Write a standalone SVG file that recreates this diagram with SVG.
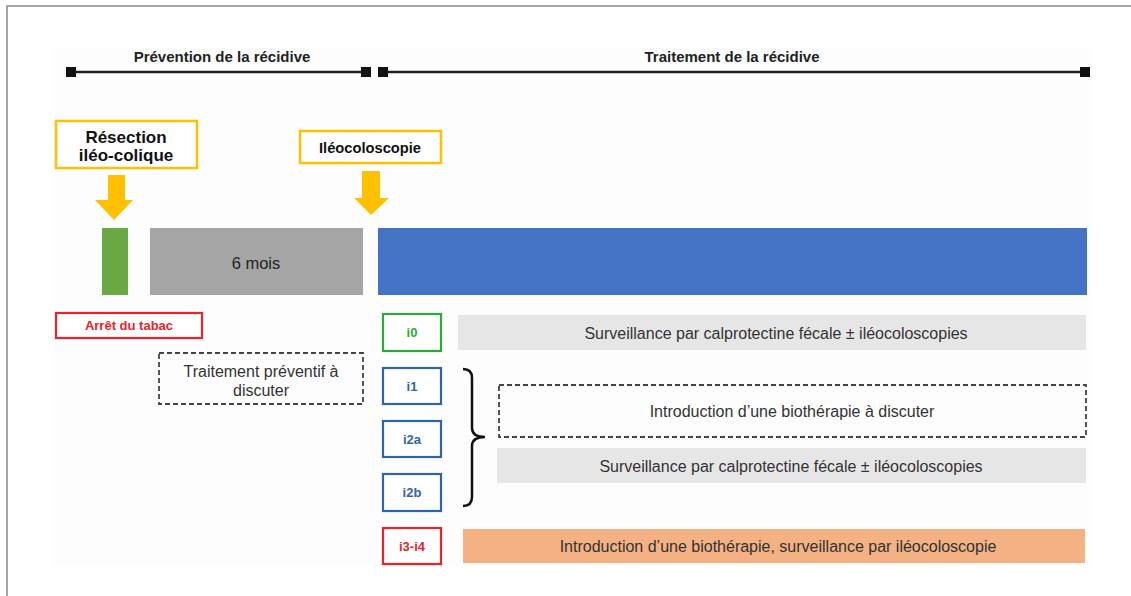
<svg xmlns="http://www.w3.org/2000/svg" width="1131" height="596" viewBox="0 0 1131 596">
<defs>
<style>
text{font-family:"Liberation Sans",Arial,sans-serif;text-anchor:middle}
.hd{font-size:15px;font-weight:bold;fill:#222}
.tl{stroke:#222;stroke-width:2.5}
.sq{fill:#111}
.ev{fill:#fff;stroke:#FFC000;stroke-width:2.5}
.evt{font-size:17px;font-weight:bold;fill:#111}
.arr{fill:#FFC000}
.lbl{font-size:16px;fill:#333}
.dash{fill:none;stroke:#444;stroke-width:1.8;stroke-dasharray:5,3}
.ib{fill:#fff;stroke-width:2.2}
.it{font-size:13px;font-weight:bold}
.gb{fill:#E7E6E6}
</style>
</defs>
<rect x="0" y="0" width="1131" height="596" fill="#fff"/>
<path d="M7,596 V6 H1131" fill="none" stroke="#888" stroke-width="1.5"/>
<rect x="52" y="48" width="1040" height="518" fill="#fdfdfd"/>

<g id="timeline-prevention">
<line class="tl" x1="71" y1="72" x2="366" y2="72"/>
<rect class="sq" x="66" y="67" width="10" height="10"/>
<rect class="sq" x="361" y="67" width="10" height="10"/>
<text class="hd" x="222" y="62">Prévention de la récidive</text>
</g>
<g id="timeline-traitement">
<line class="tl" x1="383" y1="72" x2="1085" y2="72"/>
<rect class="sq" x="378" y="67" width="10" height="10"/>
<rect class="sq" x="1080" y="67" width="10" height="10"/>
<text class="hd" x="732" y="62">Traitement de la récidive</text>
</g>

<g id="resection">
<rect class="ev" x="56" y="121" width="141" height="47"/>
<text class="evt" x="126" y="143">Résection</text>
<text class="evt" x="126" y="161">iléo-colique</text>
</g>
<g id="ileocoloscopie">
<rect class="ev" x="300" y="131" width="141" height="32"/>
<text class="evt" x="370" y="153" style="font-size:14.7px">Iléocoloscopie</text>
</g>

<g id="connectors">
<polygon class="arr" points="108,175 125,175 125,200 133,200 114,220 95,200 108,200"/>
<polygon class="arr" points="362,171 380,171 380,198 389,198 371,215 354,198 362,198"/>
<path d="M463,369 Q472,369 472,378 V428 Q472,437 485,437 Q472,437 472,446 V497 Q472,506 463,506" fill="none" stroke="#111" stroke-width="2.5"/>
</g>

<g id="bar-green"><rect x="102" y="228" width="26" height="67" fill="#6AA843"/></g>
<g id="bar-6mois">
<rect x="150" y="228" width="213" height="67" fill="#A5A5A5"/>
<text x="256" y="269" style="font-size:16.5px;fill:#222">6 mois</text>
</g>
<g id="bar-blue"><rect x="378" y="228" width="709" height="67" fill="#4472C4"/></g>

<g id="arret-tabac">
<rect x="56" y="313" width="146" height="25" fill="#fff" stroke="#E8232A" stroke-width="2.2"/>
<text x="129" y="330" style="font-size:13px;font-weight:bold;fill:#E8232A">Arrêt du tabac</text>
</g>
<g id="traitement-preventif">
<rect class="dash" x="159" y="353" width="204" height="51"/>
<text class="lbl" x="261" y="377">Traitement préventif à</text>
<text class="lbl" x="261" y="396">discuter</text>
</g>

<g id="i0">
<rect class="ib" x="383" y="314" width="58" height="37" stroke="#2DA83A"/>
<text class="it" x="412" y="337" fill="#2DA83A">i0</text>
</g>
<g id="i1">
<rect class="ib" x="383" y="368" width="58" height="36" stroke="#2F64A8"/>
<text class="it" x="412" y="391" fill="#2F64A8">i1</text>
</g>
<g id="i2a">
<rect class="ib" x="383" y="421" width="58" height="36" stroke="#2F64A8"/>
<text class="it" x="412" y="444" fill="#2F64A8">i2a</text>
</g>
<g id="i2b">
<rect class="ib" x="383" y="474" width="58" height="37" stroke="#2F64A8"/>
<text class="it" x="412" y="497" fill="#2F64A8">i2b</text>
</g>
<g id="i3-i4">
<rect class="ib" x="383" y="528" width="58" height="36" stroke="#E8232A"/>
<text class="it" x="412" y="551" fill="#E8232A">i3-i4</text>
</g>

<g id="surveillance-i0">
<rect class="gb" x="458" y="315" width="628" height="35"/>
<text class="lbl" x="776" y="339">Surveillance par calprotectine fécale ± iléocoloscopies</text>
</g>
<g id="biotherapie-discuter">
<rect class="dash" x="499" y="385" width="587" height="52"/>
<text class="lbl" x="792" y="417">Introduction d’une biothérapie à discuter</text>
</g>
<g id="surveillance-i2">
<rect class="gb" x="497" y="448" width="589" height="35"/>
<text class="lbl" x="791" y="472">Surveillance par calprotectine fécale ± iléocoloscopies</text>
</g>
<g id="biotherapie-i3">
<rect x="463" y="529" width="622" height="34" fill="#F4B183"/>
<text class="lbl" x="778" y="552">Introduction d’une biothérapie, surveillance par iléocoloscopie</text>
</g>
</svg>
